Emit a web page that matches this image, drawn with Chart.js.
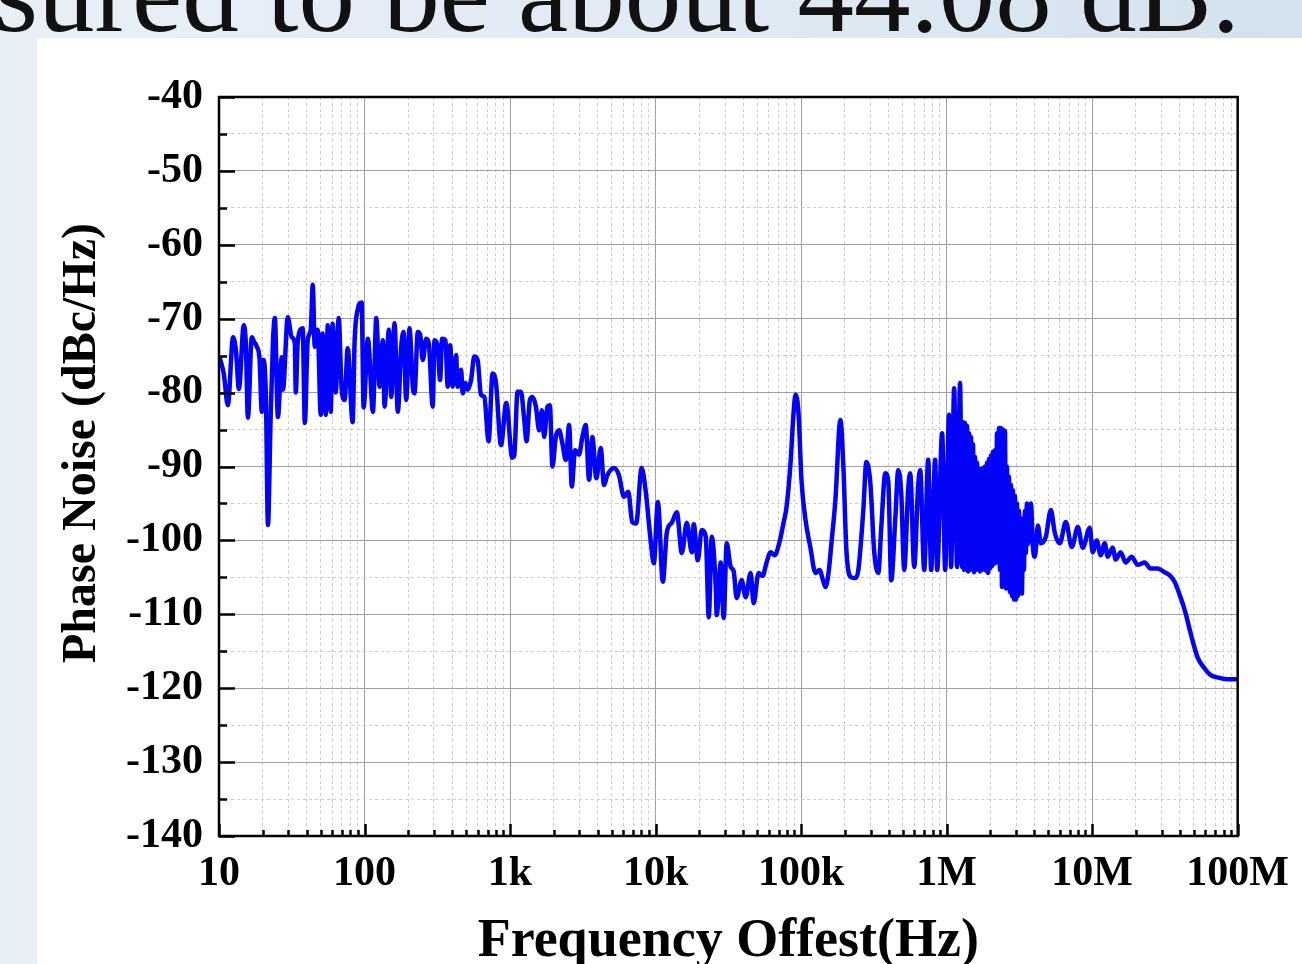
<!DOCTYPE html>
<html>
<head>
<meta charset="utf-8">
<script src="https://cdn.jsdelivr.net/npm/chart.js@4.4.1/dist/chart.umd.min.js"></script>
<style>
html,body{margin:0;padding:0;width:1302px;height:964px;overflow:hidden;}
body{position:relative;background:linear-gradient(90deg,#e8eff7 0%,#e0eaf4 55%,#d3e2ee 100%);font-family:"Liberation Serif","Times New Roman",serif;}
#banner{position:absolute;right:62px;top:-64px;font-size:113px;line-height:113px;white-space:nowrap;color:#111;}
#panel{position:absolute;left:37px;top:38px;right:0;bottom:0;background:#fff;}
#wrap{position:absolute;left:0;top:0;width:1302px;height:964px;}
</style>
</head>
<body>
<div id="banner">measured to be about 44.08 dB.</div>
<div id="panel"></div>
<div id="wrap"><canvas id="c" width="1302" height="964"></canvas></div>
<script>
// ---- data, one small array pair per decade ----
const f10 = [10.2,10.8,11.5,12.5,13.1,13.7,14.8,15.3,15.8,16.8,17.5,18.2,19.0,19.7,20.2,21.0,21.7,22.6,23.5,24.2,
  25.4,27.0,27.5,29.7,31.6,33.2,33.7,34.8,37.6,38.9,40.7,42.7,44.1,45.5,47.7,50.0,51.6,54.1,55.9,58.6,
  60.4,63.4,66.4,69.7,73.0,76.6,82.9,85.5,89.7,95.5,98.6];
const db10 = [-75.5,-77.5,-81.7,-72.5,-74.5,-79.5,-70.9,-73.5,-83.4,-72.5,-73.2,-73.8,-75.5,-82.6,-75.6,-80.5,-97.9,-84,-73,-69.9,
  -83.3,-75.2,-79.6,-69.8,-72.5,-73.3,-80,-73,-71.3,-84.1,-72.9,-71.5,-65.4,-73.8,-71.5,-83,-72,-83,-70.9,-82.6,
  -70.7,-80,-69.9,-79.6,-81,-74,-84,-73,-68.8,-67.8,-82];

const f100 = [105.5,114.2,120.5,126.9,133.7,137.3,147.0,152.6,160.8,169.4,178.7,185.4,193.4,203.8,214.7,220.5,
  232.3,241.3,251.3,265.2,276.3,294.4,302.4,318.5,330.7,341.3,359.7,372.9,387.4,403.6,425.7,436.7,
  460.8,472.5,493.2,511.4,539.6,568.4,598.8,631.7,665.7,712.4,758.6,800.5,866.4,941.9];
const db100 = [-72.7,-82.6,-69.9,-79.2,-72.9,-81.9,-71.5,-80.6,-70.6,-82.6,-73.8,-71.8,-81,-71.3,-79.2,-80.1,
  -71.8,-72.2,-75.6,-72.7,-73.3,-81.9,-72.9,-73.8,-78.3,-72.7,-72.9,-79.2,-73.6,-79.2,-74.9,-79.2,
  -76.9,-80.1,-78.7,-79.6,-78.3,-75.1,-75.6,-80.3,-80.6,-86.6,-77.4,-78.7,-87.1,-81.4];

const f1k = [1035,1069,1125.5,1188,1252,1298,1369,1427,1505,1585,1655,1716,1807,1877,1956,2063,2174,2290,2416,2546,
  2657,2798,2980,3140,3313,3491,3677,3917,4198,4423,4659,5179,5605,6063,6489,6912,7362,8017,8539,9240,9734];
const db1k = [-88.8,-88.5,-79.9,-79.9,-83.7,-86.6,-81,-80.6,-81.9,-85.1,-82.4,-86,-81.9,-81.7,-90,-86,-85.1,-86.9,-89.1,-84.4,
  -92.7,-87.8,-88.4,-86,-84.4,-91.8,-86,-91.6,-87.5,-92.5,-91.2,-90.2,-91.2,-94.1,-93.4,-97.5,-97.7,-90.2,-93.2,-99.9,-103.1];

const f10k = [10370,11220,11950,12930,14000,15150,16390,17740,18300,19490,20770,22130,23200,24320,25910,26320,28040,29390,30820,32830,
  34420,36080,39040,41580,45000,47170,51050,54370,57930,61710,65730,71120,75760,79430,84610,88710,91550,95990];
const db10k = [-94.8,-105.6,-98.9,-97.6,-96.2,-101.7,-97.6,-101.6,-97.8,-102.7,-98.6,-99.5,-110.4,-99.5,-106.3,-110.1,-103,-110.5,-100.4,-103.6,
  -104.2,-107.8,-105.4,-107.7,-104.4,-108.5,-104.4,-104.8,-103,-101.6,-102,-100.2,-97.6,-95.5,-89.5,-82.8,-80.3,-82.8];

const f100k = [100600,107200,116000,125500,133700,142400,147000,154100,161600,172100,186200,195300,204700,221500,236000,247400,
  267700,280700,299000,318500,339300,355700,378900,397300,416500,443600,465100,487700,511300,544600,562100,598800,
  637800,658300,701300,746900,783100,834200,860900,931600,976600];
const db100k = [-91.8,-97.2,-101,-104.4,-104,-105.6,-106.3,-104.5,-100.4,-94.5,-83.7,-90,-101.3,-105,-105.1,-104,
  -95.9,-89.4,-92.2,-101.7,-104.4,-98.2,-90.9,-92,-105.4,-97.2,-90.5,-93.6,-104,-93,-90.9,-103.6,
  -92.5,-90.5,-104,-89.1,-104,-89.1,-104,-85.5,-104];

const f1M = [1040000,1074000,1126000,1180000,1237000,1277000,
  1298000,1318000,1339000,1360000,1382000,1404000,1426000,1449000,1472000,1495000,1519000,1543000,1568000,1593000,
  1618000,1644000,1670000,1697000,1724000,1751000,1779000,1807000,1836000,1865000,1895000,1925000,1956000,1987000,
  2018000,2050000,2083000,2116000,2150000,2184000,2219000,2254000,2290000,2326000,2363000,2401000,2439000,2478000,
  2518000,2557000,2598000,2639000,2681000,2724000,2768000,2812000,2856000,2902000,2948000,2995000,3042000,3091000,
  3140000,3190000,3241000,3292000,3344000,3398000,3451000,3506000,3562000,3619000,
  3794000,3916000,4041000,4238000,4443000,4808000,5203000,5541000,5996000,6592000,7246000,7966000,8622000,9628000];
const db1M = [-83,-103.6,-79.4,-103.6,-78.7,-103.6,
  -84,-104,-84.1,-103.8,-84.5,-104.2,-85.5,-104,-86,-103.6,-87,-104.3,-88.7,-104,
  -89.5,-103.7,-90.3,-104.2,-90.5,-104,-90.2,-103.5,-90,-104.1,-89.5,-104.4,-89,-103.8,
  -88.5,-103.5,-88,-103.2,-87.8,-103,-85.5,-102.5,-84.8,-104,-84.8,-106.3,-85,-106,
  -85.2,-106.5,-90,-106.5,-91.4,-107,-92.5,-107.5,-93.2,-108,-94,-108,-95,-107.5,
  -96,-106,-97,-107.2,-97.6,-104,-96,-101.7,-95,-100.5,
  -95,-100.9,-102.2,-98,-100.4,-99.5,-95.9,-99,-100.4,-97.5,-100.9,-98.2,-101,-98.3];

const f10M = [10090000,10750000,11450000,12200000,12790000,13840000,14510000,15700000,16990000,18680000,20540000,22940000,
  25210000,28150000,31450000,34030000,36830000,40490000,43810000,47410000,52950000,59150000,65020000,74930000,85000000,100000000];
const db10M = [-101.6,-100,-102,-100.4,-102.2,-101,-102.6,-101.6,-103,-102.2,-103.3,-103,
  -103.8,-103.8,-104.3,-104.7,-105.6,-107.7,-109.8,-112.5,-115.8,-117.3,-118.2,-118.6,-118.8,-118.8];

// axis ticks and titles
const xDecades = [10, 100, 1e3, 1e4, 1e5, 1e6, 1e7, 1e8];
const xDecadeLabels = ['10', '100', '1k', '10k', '100k', '1M', '10M', '100M'];
const xMinorMultipliers = [2, 3, 4, 5, 6, 7, 8, 9];
const yMin = -140, yMax = -40, yMinorStep = 5, yMajorStep = 10;
const xTitle = 'Frequency Offest(Hz)';
const yTitle = 'Phase Noise (dBc/Hz)';

// ---- build ----
const freqHz = [].concat(f10, f100, f1k, f10k, f100k, f1M, f10M);
const phaseNoiseDb = [].concat(db10, db100, db1k, db10k, db100k, db1M, db10M);
const points = freqHz.map((f, i) => ({x: f, y: phaseNoiseDb[i]}));

const FAMILY = "'Liberation Serif','Times New Roman',serif";
const xTickValues = [];
xDecades.forEach((d, i) => {
  xTickValues.push(d);
  if (i < xDecades.length - 1) xMinorMultipliers.forEach(m => xTickValues.push(d * m));
});
const isDecade = v => xDecades.some(d => Math.abs(d - v) < d * 1e-6);
const decadeLabel = v => {
  const i = xDecades.findIndex(d => Math.abs(d - v) < d * 1e-6);
  return i >= 0 ? xDecadeLabels[i] : '';
};
const isYMajor = v => Math.abs(v % yMajorStep) < 1e-6;

const MAJOR_GRID = '#a0a0a0', MINOR_GRID = '#cdcdcd';

const framePlugin = {
  id: 'frameAndTicks',
  afterDatasetsDraw(chart) {
    const {ctx, chartArea: a, scales: {x, y}} = chart;
    ctx.save();
    ctx.strokeStyle = '#000';
    ctx.lineWidth = 2.5;
    ctx.beginPath();
    x.ticks.forEach(t => {
      const px = Math.round(x.getPixelForValue(t.value)) + 0.5;
      const len = isDecade(t.value) ? 12 : 6;
      ctx.moveTo(px, a.bottom); ctx.lineTo(px, a.bottom - len);
    });
    y.ticks.forEach(t => {
      const py = Math.round(y.getPixelForValue(t.value)) + 0.5;
      const len = isYMajor(t.value) ? 16 : 8;
      ctx.moveTo(a.left, py); ctx.lineTo(a.left + len, py);
    });
    ctx.stroke();
    ctx.strokeRect(a.left, a.top, a.right - a.left, a.bottom - a.top);
    ctx.fillStyle = '#000';
    ctx.font = "bold 48px " + FAMILY;
    ctx.textAlign = 'center';
    ctx.textBaseline = 'middle';
    ctx.translate(83, 443);
    ctx.rotate(-Math.PI / 2);
    ctx.fillText(yTitle, 0, 0);
    ctx.restore();
  }
};

new Chart(document.getElementById('c'), {
  type: 'line',
  data: {
    datasets: [{
      data: points,
      borderColor: '#0303f7',
      borderWidth: 4.5,
      pointRadius: 0,
      fill: false,
      cubicInterpolationMode: 'monotone',
      borderJoinStyle: 'round',
      borderCapStyle: 'round'
    }]
  },
  options: {
    responsive: false,
    animation: false,
    events: [],
    layout: {padding: {left: 0, top: 97, right: 62, bottom: 0}},
    plugins: {legend: {display: false}, tooltip: {enabled: false}},
    scales: {
      x: {
        type: 'logarithmic',
        position: 'bottom',
        min: xDecades[0],
        max: xDecades[xDecades.length - 1],
        afterBuildTicks: s => { s.ticks = xTickValues.map(v => ({value: v, major: isDecade(v)})); },
        afterFit: s => { s.height = 128; },
        ticks: {
          autoSkip: false, maxRotation: 0, minRotation: 0, padding: 13,
          color: '#000',
          font: {family: FAMILY, size: 42, weight: 'bold'},
          callback: v => decadeLabel(v)
        },
        grid: {
          drawTicks: false,
          lineWidth: 1,
          color: c => (c.tick && isDecade(c.tick.value)) ? MAJOR_GRID : MINOR_GRID
        },
        border: {
          display: false,
          dash: c => (c.tick && !isDecade(c.tick.value)) ? [3, 3] : []
        },
        title: {
          display: true, text: xTitle, color: '#000',
          font: {family: FAMILY, size: 54, weight: 'bold'},
          padding: {top: 0, bottom: -10}
        }
      },
      y: {
        type: 'linear',
        min: yMin, max: yMax,
        afterFit: s => { s.width = 219; },
        ticks: {
          stepSize: yMinorStep, autoSkip: false, padding: 16,
          color: '#000',
          font: {family: FAMILY, size: 42, weight: 'bold'},
          callback: v => isYMajor(v) ? String(v) : ''
        },
        grid: {
          drawTicks: false,
          lineWidth: 1,
          color: c => (c.tick && isYMajor(c.tick.value)) ? MAJOR_GRID : MINOR_GRID
        },
        border: {
          display: false,
          dash: c => (c.tick && !isYMajor(c.tick.value)) ? [3, 3] : []
        }
      }
    }
  },
  plugins: [framePlugin]
});
</script>
</body>
</html>
